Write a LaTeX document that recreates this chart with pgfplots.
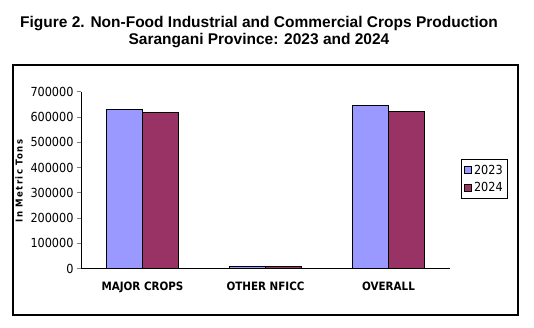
\documentclass[border=0pt]{standalone}
\usepackage{fontspec}
\setmainfont{Liberation Sans}
\newfontfamily\tickfont{DejaVu Sans Condensed}
\newfontfamily\labfont[LetterSpace=15]{DejaVu Sans Condensed Bold}
\usepackage{pgfplots}
\pgfplotsset{compat=1.18}
\definecolor{c23}{HTML}{9999FF}
\definecolor{c24}{HTML}{993366}
\begin{document}
\begin{tikzpicture}[x=1pt,y=1pt]
\path[use as bounding box] (0,0) rectangle (534,328);
\draw[line width=1.1pt] (13,13) rectangle (518,263);
\node[font=\bfseries\fontsize{15.5}{17.5}\selectfont, align=center] at (259,296)
  {Figure 2. Non-Food Industrial and Commercial Crops Production\\Sarangani Province: 2023 and 2024};
\node[rotate=90, font=\labfont\fontsize{9.5}{10}\selectfont] at (19,147) {In Metric Tons};
\begin{axis}[
  at={(81pt,59.3pt)}, anchor=south west,
  width=369pt, height=177pt, scale only axis,
  xmin=-0.5, xmax=2.5, ymin=0, ymax=700000,
  axis x line*=bottom, axis y line*=left,
  axis line style={line width=0.9pt, -},
  xtick={0,1,2},
  xticklabels={MAJOR CROPS, OTHER NFICC, OVERALL},
  x tick style={draw=none},
  extra x ticks={0.5,1.5},
  extra x tick labels={},
  extra x tick style={major tick length=4pt, tick align=outside, tick style={draw=black, line width=0.9pt}},
  ytick={0,100000,...,700000},
  y tick style={line width=0.9pt},
  tick align=outside, major tick length=4pt,
  scaled y ticks=false,
  yticklabel style={/pgf/number format/fixed, /pgf/number format/1000 sep={}, font=\tickfont\fontsize{12.5}{12}\selectfont},
  xticklabel style={font=\tickfont\bfseries\fontsize{11.5}{12}\selectfont, yshift=-6pt},
  /pgf/number format/assume math mode=true,
  ybar=0pt, bar width=36pt,
  legend style={at={(1.0298,0.618)}, anchor=north west, draw=black, line width=0.9pt,
    font=\tickfont\fontsize{12.5}{12}\selectfont, row sep=3pt, inner sep=3pt},
  legend image code/.code={\draw[#1, line width=0.6pt] (0pt,-3.5pt) rectangle (7pt,3.5pt);},
  clip=false,
]
\addplot[fill=c23, draw=black, line width=0.9pt] coordinates {(0,631000) (1,9500) (2,644000)};
\addplot[fill=c24, draw=black, line width=0.9pt] coordinates {(0,616000) (1,9000) (2,623500)};
\legend{2023,2024}
\end{axis}
\end{tikzpicture}
\end{document}
